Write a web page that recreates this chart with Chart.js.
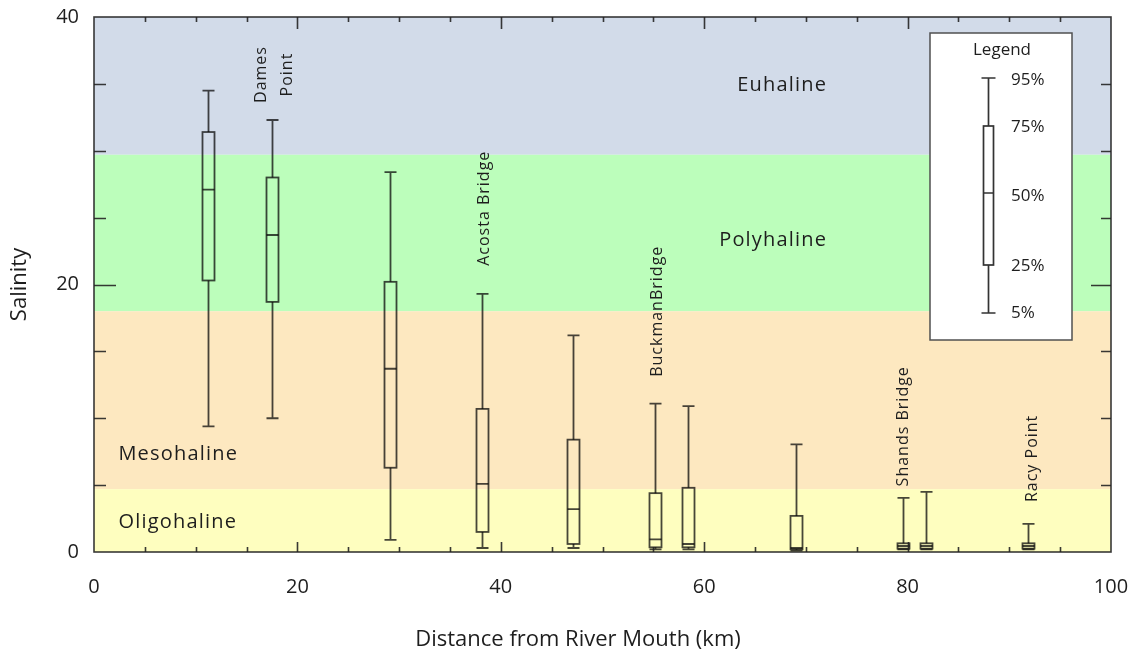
<!DOCTYPE html>
<html><head><meta charset="utf-8">
<script src="https://cdn.jsdelivr.net/npm/chart.js@4.4.1/dist/chart.umd.min.js"></script>
<style>html,body{margin:0;padding:0;background:#fff;}canvas{display:block;}</style>
</head><body>
<canvas id="c" width="1136" height="661"></canvas>
<script>
// ---- data ----
const distanceKm = [11.2, 17.5, 29.1, 38.2, 47.1, 55.2, 58.4, 69.0, 79.5, 81.8, 91.8];
const p95 = [34.5, 32.3, 28.4, 19.3, 16.2, 11.1, 10.9, 8.05, 4.05, 4.5, 2.1];
const p75 = [31.4, 28.0, 20.2, 10.7, 8.4, 4.4, 4.8, 2.7, 0.65, 0.65, 0.65];
const p50 = [27.1, 23.7, 13.7, 5.1, 3.2, 0.95, 0.6, 0.3, 0.45, 0.45, 0.45];
const p25 = [20.3, 18.7, 6.3, 1.5, 0.6, 0.35, 0.35, 0.2, 0.25, 0.25, 0.25];
const p5  = [9.4, 10.0, 0.9, 0.3, 0.3, 0.2, 0.2, 0.1, 0.2, 0.2, 0.2];
const zoneNames = ['Euhaline', 'Polyhaline', 'Mesohaline', 'Oligohaline'];
const zoneLower = [29.7, 18, 4.7, 0];
const zoneUpper = [40, 29.7, 18, 4.7];
const siteNames = [['Dames', 'Point'], ['Acosta Bridge'], ['BuckmanBridge'], ['Shands Bridge'], ['Racy Point']];
const siteKm = [17.7, 38.4, 55.4, 79.6, 92.3];
const xTicks = [0, 20, 40, 60, 80, 100];
const yTicks = [0, 20, 40];
const legendLabels = ['95%', '75%', '50%', '25%', '5%'];

// ---- styles / placement (not data) ----
const FONT = "'Open Sans', 'DejaVu Sans', sans-serif";
const zoneColors = ['#d2dbe9', '#bcfebb', '#fde8c0', '#fefebf'];
const zoneLabelPos = [ {x: 72.1, y: 34.9, align: 'right'}, {x: 72.1, y: 23.3, align: 'right'},
                       {x: 2.4, y: 7.3, align: 'left'}, {x: 2.4, y: 2.2, align: 'left'} ];
const siteLabelY = [35.7, 25.7, 18.0, 9.4, 7.0];
const BOX_COLOR = 'rgba(10,10,10,0.75)';
const TEXT_COLOR = '#1e1e1e';

const bandPlugin = {
  id: 'bands',
  beforeDatasetsDraw(chart) {
    const {ctx, chartArea: a, scales: {y}} = chart;
    ctx.save();
    for (let i = 0; i < zoneNames.length; i++) {
      const t = y.getPixelForValue(zoneUpper[i]);
      const b = y.getPixelForValue(zoneLower[i]);
      ctx.fillStyle = zoneColors[i];
      ctx.fillRect(a.left, t, a.right - a.left, b - t);
    }
    ctx.restore();
  }
};

const overlayPlugin = {
  id: 'overlay',
  afterDatasetsDraw(chart) {
    const {ctx, chartArea: a, scales: {x, y}} = chart;
    ctx.save();
    // zone labels
    ctx.fillStyle = TEXT_COLOR;
    ctx.font = '20px ' + FONT;
    ctx.letterSpacing = '1.2px';
    ctx.textBaseline = 'middle';
    zoneNames.forEach((n, i) => {
      const p = zoneLabelPos[i];
      ctx.textAlign = p.align;
      ctx.fillText(n, x.getPixelForValue(p.x), y.getPixelForValue(p.y));
    });
    // box plots
    ctx.strokeStyle = BOX_COLOR;
    ctx.lineWidth = 1.8;
    const hw = 6, cw = 6;
    distanceKm.forEach((d, i) => {
      const cx = Math.round(x.getPixelForValue(d)) + 0.5;
      const yw1 = y.getPixelForValue(p95[i]);
      const yb1 = y.getPixelForValue(p75[i]);
      const ym = y.getPixelForValue(p50[i]);
      const yb2 = y.getPixelForValue(p25[i]);
      const yw2 = y.getPixelForValue(p5[i]);
      ctx.beginPath();
      ctx.moveTo(cx, yw1); ctx.lineTo(cx, yb1);
      ctx.moveTo(cx, yb2); ctx.lineTo(cx, yw2);
      ctx.moveTo(cx - cw, yw1); ctx.lineTo(cx + cw, yw1);
      ctx.moveTo(cx - cw, yw2); ctx.lineTo(cx + cw, yw2);
      ctx.moveTo(cx - hw, ym); ctx.lineTo(cx + hw, ym);
      ctx.stroke();
      ctx.strokeRect(cx - hw, yb1, hw * 2, yb2 - yb1);
    });
    // site labels (rotated)
    ctx.font = '16px ' + FONT;
    ctx.letterSpacing = '1px';
    ctx.fillStyle = TEXT_COLOR;
    siteNames.forEach((lines, i) => {
      const px = x.getPixelForValue(siteKm[i]);
      const py = y.getPixelForValue(siteLabelY[i]);
      ctx.save();
      ctx.translate(px, py);
      ctx.rotate(-Math.PI / 2);
      ctx.textAlign = 'center';
      ctx.textBaseline = 'middle';
      lines.forEach((ln, k) => {
        ctx.fillText(ln, 0, (k - (lines.length - 1) / 2) * 26);
      });
      ctx.restore();
    });
    ctx.letterSpacing = '0px';
    // legend box
    const L = a.right - 181, T = a.top + 16, W = 142, H = 307;
    ctx.fillStyle = '#ffffff';
    ctx.fillRect(L, T, W, H);
    ctx.strokeStyle = '#505050';
    ctx.lineWidth = 1.5;
    ctx.strokeRect(L, T, W, H);
    ctx.fillStyle = TEXT_COLOR;
    ctx.font = '17px ' + FONT;
    ctx.textAlign = 'center';
    ctx.textBaseline = 'middle';
    ctx.fillText('Legend', L + 72, T + 17);
    const sx = L + 58.5;
    const ly = [T + 45, T + 93, T + 160, T + 232, T + 280];
    ctx.strokeStyle = '#333333';
    ctx.lineWidth = 1.7;
    ctx.beginPath();
    ctx.moveTo(sx, ly[0]); ctx.lineTo(sx, ly[1]);
    ctx.moveTo(sx, ly[3]); ctx.lineTo(sx, ly[4]);
    ctx.moveTo(sx - 7, ly[0]); ctx.lineTo(sx + 7, ly[0]);
    ctx.moveTo(sx - 7, ly[4]); ctx.lineTo(sx + 7, ly[4]);
    ctx.moveTo(sx - 5, ly[2]); ctx.lineTo(sx + 5, ly[2]);
    ctx.stroke();
    ctx.strokeRect(sx - 5, ly[1], 10, ly[3] - ly[1]);
    ctx.textAlign = 'left';
    ctx.font = '17px ' + FONT;
    const lOff = [2, 1, 3, 1, 0];
    legendLabels.forEach((t, k) => ctx.fillText(t, L + 81, ly[k] + lOff[k]));
    // frame and inward ticks
    ctx.strokeStyle = 'rgba(35,35,35,0.9)';
    ctx.lineWidth = 1.6;
    ctx.strokeRect(a.left, a.top, a.right - a.left, a.bottom - a.top);
    ctx.beginPath();
    for (let v = 5; v < 100; v += 5) {
      const px = Math.round(x.getPixelForValue(v)) + 0.5;
      const major = v % 20 === 0;
      ctx.moveTo(px, a.bottom); ctx.lineTo(px, a.bottom - (major ? 10 : 5));
      ctx.moveTo(px, a.top); ctx.lineTo(px, a.top + (major ? 12 : 5));
    }
    for (let v = 5; v < 40; v += 5) {
      const py = Math.round(y.getPixelForValue(v)) + 0.5;
      const major = v % 20 === 0;
      ctx.moveTo(a.left, py); ctx.lineTo(a.left + (major ? 22 : 12), py);
      ctx.moveTo(a.right, py); ctx.lineTo(a.right - (major ? 20 : 10), py);
    }
    ctx.stroke();
    // x axis title
    ctx.fillStyle = TEXT_COLOR;
    ctx.font = '22px ' + FONT;
    ctx.textAlign = 'center';
    ctx.textBaseline = 'middle';
    ctx.fillText('Distance from River Mouth (km)', 578, 640);
    ctx.restore();
  }
};

new Chart(document.getElementById('c').getContext('2d'), {
  type: 'scatter',
  data: { datasets: [] },
  options: {
    responsive: false,
    animation: false,
    layout: { padding: { top: 17, right: 25, left: 0, bottom: 0 } },
    plugins: { legend: { display: false }, tooltip: { enabled: false } },
    scales: {
      x: {
        type: 'linear', min: 0, max: 100,
        afterBuildTicks: s => { s.ticks = xTicks.map(v => ({ value: v })); },
        afterFit: s => { s.height = 109; s.paddingLeft = 0; s.paddingRight = 0; },
        grid: { display: false }, border: { display: false },
        ticks: { font: { family: FONT, size: 20 }, color: TEXT_COLOR, padding: 15, maxRotation: 0, autoSkip: false }
      },
      y: {
        type: 'linear', min: 0, max: 40,
        afterBuildTicks: s => { s.ticks = yTicks.map(v => ({ value: v })); },
        afterFit: s => { s.width = 94; s.paddingTop = 0; s.paddingBottom = 0; },
        grid: { display: false }, border: { display: false },
        ticks: { font: { family: FONT, size: 20 }, color: TEXT_COLOR, padding: 7, autoSkip: false },
        title: { display: true, text: 'Salinity', font: { family: FONT, size: 22 }, color: TEXT_COLOR, padding: { top: 7, bottom: 0 } }
      }
    }
  },
  plugins: [bandPlugin, overlayPlugin]
});
</script>
</body></html>
